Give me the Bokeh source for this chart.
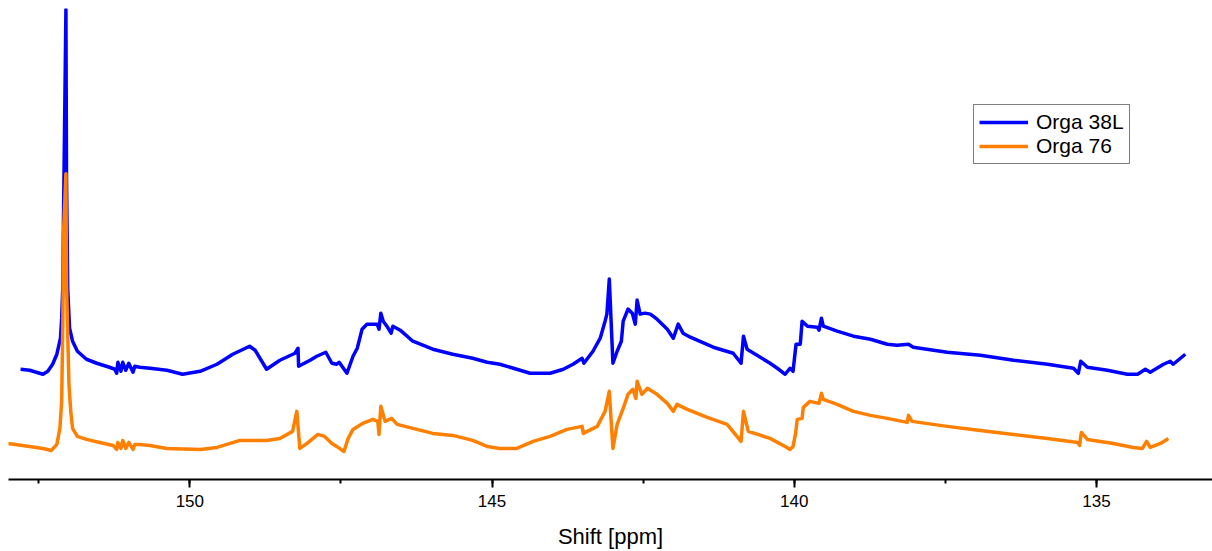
from bokeh.plotting import figure
from bokeh.models import Range1d, SingleIntervalTicker
from bokeh.embed import file_html
from bokeh.resources import INLINE

# ---- data: (shift in ppm, intensity in arbitrary units) ----
orga38l = [
    (152.80, 110), (152.65, 109), (152.43, 105), (152.35, 108), (152.27, 115), (152.20, 125),
    (152.14, 141), (152.12, 161), (152.10, 195), (152.09, 261), (152.05, 469), (152.04, 300),
    (152.02, 190), (151.99, 151), (151.94, 138), (151.86, 128), (151.71, 120), (151.54, 116),
    (151.33, 112), (151.24, 110), (151.21, 106), (151.19, 117), (151.14, 108), (151.11, 117),
    (151.06, 109), (151.01, 116), (150.94, 107), (150.91, 113), (150.83, 112), (150.66, 111),
    (150.38, 109), (150.12, 105), (149.83, 108), (149.55, 115), (149.29, 125), (149.01, 133),
    (148.92, 129), (148.73, 110), (148.51, 119), (148.26, 126), (148.21, 131), (148.20, 113),
    (148.01, 119), (147.90, 123), (147.75, 127), (147.65, 116), (147.57, 115), (147.53, 117),
    (147.40, 106), (147.30, 123), (147.23, 131), (147.15, 150), (147.07, 155), (146.90, 155),
    (146.87, 150), (146.84, 166), (146.80, 158), (146.74, 153), (146.67, 146), (146.64, 153),
    (146.52, 149), (146.31, 138), (145.98, 130), (145.65, 125), (145.32, 121), (145.08, 117),
    (144.87, 115), (144.59, 110), (144.37, 106), (144.04, 106), (143.82, 110), (143.66, 115),
    (143.51, 121), (143.48, 116), (143.33, 128), (143.21, 141), (143.13, 158), (143.10, 165),
    (143.06, 200), (143.03, 158), (143.00, 116), (142.93, 128), (142.86, 138), (142.83, 158),
    (142.75, 170), (142.68, 166), (142.63, 155), (142.60, 179), (142.55, 165), (142.47, 166),
    (142.38, 165), (142.27, 160), (142.10, 150), (142.00, 141), (141.92, 155), (141.84, 146),
    (141.72, 142), (141.34, 132), (141.01, 126), (140.88, 116), (140.84, 143), (140.78, 130),
    (140.40, 116), (140.28, 111), (140.15, 105), (140.07, 111), (140.02, 108), (139.97, 135),
    (139.90, 135), (139.87, 158), (139.78, 153), (139.62, 152), (139.59, 149), (139.55, 161),
    (139.52, 153), (139.29, 148), (139.02, 143), (138.74, 140), (138.46, 135), (138.30, 134),
    (138.11, 135), (138.03, 132), (137.47, 127), (136.92, 124), (136.37, 119), (135.81, 115),
    (135.38, 111), (135.30, 106), (135.26, 118), (135.15, 112), (134.82, 109), (134.49, 105),
    (134.32, 105), (134.19, 110), (134.11, 107), (133.89, 115), (133.78, 118), (133.73, 115),
    (133.53, 125),
]

orga76 = [
    (153.01, 36), (152.65, 33), (152.43, 31), (152.29, 29), (152.20, 35), (152.15, 51),
    (152.12, 78), (152.10, 161), (152.09, 245), (152.05, 305), (152.04, 195), (152.00, 95),
    (151.97, 68), (151.94, 51), (151.86, 43), (151.71, 40), (151.49, 37), (151.27, 34),
    (151.21, 30), (151.19, 37), (151.14, 31), (151.11, 39), (151.06, 31), (151.01, 37),
    (150.94, 30), (150.91, 35), (150.83, 35), (150.66, 34), (150.38, 31), (149.83, 30),
    (149.55, 32), (149.17, 39), (148.73, 39), (148.51, 41), (148.30, 48), (148.23, 68),
    (148.18, 31), (148.06, 36), (147.88, 45), (147.77, 43), (147.65, 36), (147.57, 33),
    (147.45, 28), (147.38, 41), (147.30, 50), (147.14, 56), (146.97, 60), (146.89, 58),
    (146.87, 45), (146.84, 73), (146.77, 58), (146.66, 61), (146.57, 55), (146.31, 51),
    (145.98, 46), (145.65, 44), (145.32, 39), (145.08, 33), (144.87, 31), (144.59, 31),
    (144.32, 38), (144.04, 43), (143.76, 50), (143.51, 53), (143.49, 46), (143.26, 53),
    (143.13, 68), (143.06, 88), (143.00, 31), (142.93, 55), (142.83, 71), (142.75, 85),
    (142.67, 90), (142.62, 81), (142.60, 98), (142.52, 85), (142.43, 91), (142.27, 85),
    (142.10, 76), (142.00, 68), (141.94, 75), (141.77, 70), (141.44, 62), (141.11, 55),
    (140.88, 38), (140.84, 68), (140.76, 48), (140.40, 41), (140.15, 33), (140.07, 30),
    (140.02, 33), (139.98, 45), (139.95, 60), (139.87, 61), (139.85, 72), (139.74, 78),
    (139.59, 76), (139.55, 86), (139.52, 80), (139.29, 75), (139.02, 68), (138.74, 64),
    (138.46, 61), (138.13, 57), (138.11, 64), (138.05, 58), (137.47, 53), (136.92, 49),
    (136.37, 45), (135.81, 41), (135.31, 37), (135.28, 34), (135.25, 47), (135.15, 40),
    (134.72, 36), (134.39, 32), (134.24, 31), (134.17, 38), (134.11, 32), (133.94, 36),
    (133.81, 41),
]

series_names = ["Orga 38L", "Orga 76"]
series_colors = ["#0000FF", "#FF8000"]
x_label = "Shift [ppm]"

FONT = "Liberation Sans"

p = figure(width=1212, height=551, output_backend="svg", toolbar_location=None,
           x_range=Range1d(153.0, 133.08), y_range=Range1d(0, 470),
           y_axis_location=None, min_border_left=8, min_border_right=0,
           min_border_top=8, min_border_bottom=0)
p.outline_line_color = None
p.xgrid.visible = False
p.ygrid.visible = False
p.background_fill_color = "white"
p.border_fill_color = "white"

for data, name, color in zip([orga38l, orga76], series_names, series_colors):
    xs = [d[0] for d in data]
    ys = [d[1] for d in data]
    p.line(xs, ys, line_color=color, line_width=3.5, line_join="round",
           legend_label=name)

ax = p.xaxis[0]
ax.ticker = SingleIntervalTicker(interval=5, num_minor_ticks=2)
ax.axis_label = x_label
ax.axis_label_text_font = FONT
ax.axis_label_text_font_size = "22px"
ax.axis_label_text_font_style = "normal"
ax.axis_label_text_color = "black"
ax.axis_label_standoff = 14
ax.major_label_text_font = FONT
ax.major_label_text_font_size = "17px"
ax.major_label_text_color = "black"
ax.major_label_standoff = 7
ax.axis_line_width = 2
ax.axis_line_color = "black"
ax.major_tick_line_width = 2
ax.major_tick_line_color = "black"
ax.major_tick_out = 8
ax.major_tick_in = 0
ax.minor_tick_line_width = 2
ax.minor_tick_line_color = "black"
ax.minor_tick_out = 4
ax.minor_tick_in = 0

lg = p.legend[0]
lg.location = (965, 315)
lg.border_line_color = "black"
lg.border_line_width = 1
lg.background_fill_alpha = 1.0
lg.label_text_font = FONT
lg.label_text_font_size = "21px"
lg.label_text_color = "black"
lg.glyph_width = 49
lg.label_standoff = 8
lg.padding = 5
lg.spacing = 0
lg.margin = 0
lg.label_height = 22
lg.glyph_height = 22

open("out.html", "w").write(file_html(p, INLINE))
